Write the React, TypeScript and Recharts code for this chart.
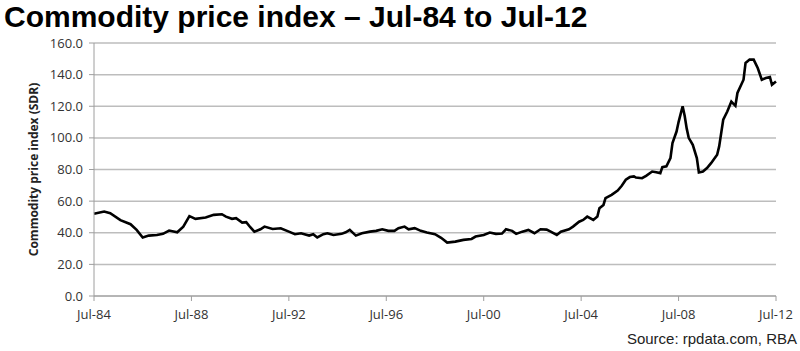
import { LineChart, Line, XAxis, YAxis, CartesianGrid } from 'recharts';

// Month of each reading (YYYY-MM) and the commodity price index (SDR)
const months = [
  '1984-07', '1984-12', '1985-03', '1985-08', '1986-01', '1986-04', '1986-07', '1986-10',
  '1987-02', '1987-05', '1987-08', '1987-12', '1988-03', '1988-06', '1988-09', '1989-02',
  '1989-06', '1989-10', '1989-12', '1990-03', '1990-05', '1990-08', '1990-10', '1990-12',
  '1991-02', '1991-05', '1991-07', '1991-11', '1992-03', '1992-07', '1992-10', '1993-01',
  '1993-05', '1993-07', '1993-09', '1993-12', '1994-02', '1994-05', '1994-09', '1994-11',
  '1995-01', '1995-04', '1995-07', '1995-11', '1996-02', '1996-05', '1996-08', '1996-11',
  '1997-01', '1997-04', '1997-06', '1997-09', '1997-12', '1998-03', '1998-07', '1998-10',
  '1999-01', '1999-05', '1999-09', '2000-01', '2000-03', '2000-07', '2000-10', '2001-01',
  '2001-04', '2001-06', '2001-09', '2001-11', '2002-02', '2002-05', '2002-08', '2002-11',
  '2003-02', '2003-04', '2003-07', '2003-09', '2004-01', '2004-03', '2004-06', '2004-08',
  '2004-10', '2005-01', '2005-03', '2005-04', '2005-06', '2005-07', '2005-10', '2006-01',
  '2006-03', '2006-05', '2006-07', '2006-09', '2006-10', '2007-01', '2007-03', '2007-06',
  '2007-08', '2007-10', '2007-11', '2008-01', '2008-03', '2008-04', '2008-06', '2008-07',
  '2008-08', '2008-09', '2008-10', '2008-11', '2008-12', '2009-02', '2009-04', '2009-05',
  '2009-07', '2009-09', '2009-11', '2010-02', '2010-03', '2010-05', '2010-07', '2010-09',
  '2010-11', '2010-12', '2011-03', '2011-04', '2011-06', '2011-08', '2011-10', '2011-12',
  '2012-02', '2012-04', '2012-05', '2012-07',
];

const priceIndex = [
  52, 53.4, 52.4, 48, 45.4, 41.8, 37, 38.2,
  38.6, 39.3, 41.4, 40.3, 43.9, 50.5, 48.8, 49.6,
  51.3, 51.7, 50.2, 48.8, 49.2, 46.4, 46.7, 43.5,
  40.7, 42.2, 43.9, 42.4, 42.8, 40.7, 39.1, 39.7,
  38.2, 39.1, 37, 39.1, 39.7, 38.6, 39.3, 40.3,
  41.8, 38.2, 39.7, 40.7, 41.2, 42.2, 41.2, 41.2,
  42.9, 43.9, 42.2, 42.9, 41.2, 40.1, 39.1, 36.8,
  33.8, 34.4, 35.5, 36.1, 37.6, 38.6, 40.1, 39.3,
  39.5, 42.2, 41.2, 39.3, 40.7, 41.8, 39.7, 42.2,
  42, 40.7, 38.6, 40.7, 42.2, 43.9, 47, 48.1,
  50.2, 48.1, 50.2, 55.5, 57.6, 61.9, 64, 66.7,
  69.7, 73.5, 75.2, 75.6, 74.9, 74.5, 76, 78.7,
  78.3, 77.7, 81.5, 82, 87.2, 96.7, 104, 110,
  115, 120, 114, 106, 100, 95.6, 87.2, 78.1,
  78.7, 80.9, 84, 89.3, 94.6, 111.5, 116.7, 123,
  120.3, 128.4, 136.8, 147.4, 149.5, 149.5, 144.2, 136.8,
  137.9, 138.5, 133.6, 135.7,
];

const yTicks = [0, 20, 40, 60, 80, 100, 120, 140, 160];
// months since Jul-84 for each x label
const xTicks = [0, 48, 96, 144, 192, 240, 288, 336];

const data = months.map((m, i) => {
  const [y, mo] = m.split('-').map(Number);
  return { t: (y - 1984) * 12 + (mo - 7), value: priceIndex[i] };
});

const monthLabel = (t: number) => {
  const yr = 1984 + Math.floor((t + 6) / 12);
  return `Jul-${String(yr % 100).padStart(2, '0')}`;
};

const tickStyle = { fontFamily: '"Open Sans", sans-serif', fontSize: 13, fill: '#333' };

export default function App() {
  return (
    <div style={{ position: 'absolute', left: 0, top: 0, width: 800, height: 351, background: '#fff' }}>
      <div
        style={{
          position: 'absolute', left: 4, top: 0, lineHeight: 'normal',
          fontFamily: '"Liberation Sans", Arial, sans-serif', fontWeight: 'bold', fontSize: 30,
          color: '#000', whiteSpace: 'nowrap',
        }}
      >
        Commodity price index – Jul-84 to Jul-12
      </div>

      <LineChart
        width={800}
        height={351}
        data={data}
        margin={{ top: 43, right: 24, left: 0, bottom: 30 }}
      >
        <CartesianGrid vertical={false} stroke="#bdbdbd" strokeWidth={1.5} />
        <XAxis
          dataKey="t"
          type="number"
          domain={[0, 336]}
          ticks={xTicks}
          tickFormatter={monthLabel}
          stroke="#9e9e9e"
          tickSize={5}
          tickMargin={9}
          height={25}
          tick={tickStyle}
        />
        <YAxis
          domain={[0, 160]}
          ticks={yTicks}
          tickFormatter={(v: number) => v.toFixed(1)}
          stroke="#9e9e9e"
          width={94}
          tickSize={5}
          tickMargin={6}
          tick={tickStyle}
          label={{
            value: 'Commodity price index (SDR)',
            angle: -90,
            position: 'insideLeft',
            offset: 34,
            style: {
              textAnchor: 'middle',
              fontFamily: '"Open Sans", sans-serif',
              fontWeight: 'bold',
              fontSize: 12,
              fill: '#222',
            },
          }}
        />
        <Line
          type="linear"
          dataKey="value"
          stroke="#000"
          strokeWidth={2.6}
          dot={false}
          isAnimationActive={false}
        />
      </LineChart>

      <div
        style={{
          position: 'absolute', right: 3, top: 331, lineHeight: '15px',
          fontFamily: '"Liberation Sans", Arial, sans-serif', fontSize: 15, color: '#222',
        }}
      >
        Source: rpdata.com, RBA
      </div>
    </div>
  );
}
